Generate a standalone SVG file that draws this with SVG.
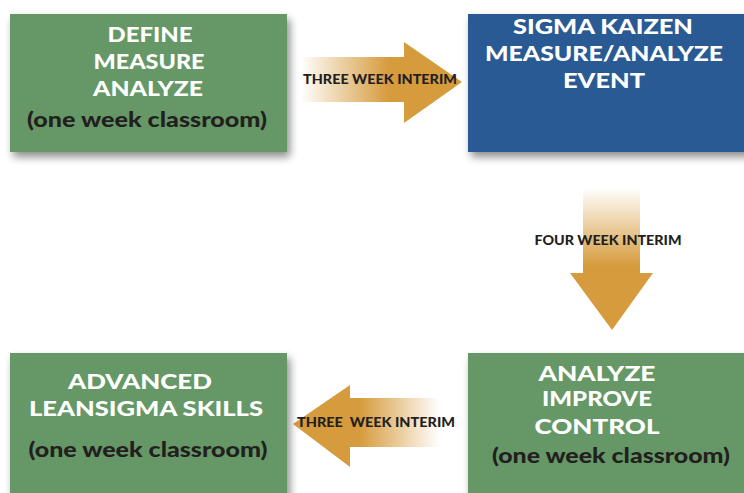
<svg xmlns="http://www.w3.org/2000/svg" width="744" height="493" viewBox="0 0 744 493">
<defs>
<filter id="sh" x="-10%" y="-15%" width="125%" height="140%">
<feGaussianBlur in="SourceAlpha" stdDeviation="4"/>
<feOffset dx="3" dy="5" result="b"/>
<feComponentTransfer><feFuncA type="linear" slope="0.45"/></feComponentTransfer>
<feMerge><feMergeNode/><feMergeNode in="SourceGraphic"/></feMerge>
</filter>
<linearGradient id="gR" x1="300" y1="0" x2="462" y2="0" gradientUnits="userSpaceOnUse">
<stop offset="0" stop-color="#d69b3c" stop-opacity="0"/>
<stop offset="0.55" stop-color="#d69b3c" stop-opacity="1"/>
<stop offset="1" stop-color="#d69b3c"/>
</linearGradient>
<linearGradient id="gL" x1="440" y1="0" x2="293" y2="0" gradientUnits="userSpaceOnUse">
<stop offset="0" stop-color="#d69b3c" stop-opacity="0"/>
<stop offset="0.55" stop-color="#d69b3c" stop-opacity="1"/>
<stop offset="1" stop-color="#d69b3c"/>
</linearGradient>
<linearGradient id="gD" x1="0" y1="188" x2="0" y2="330" gradientUnits="userSpaceOnUse">
<stop offset="0" stop-color="#d69b3c" stop-opacity="0"/>
<stop offset="0.55" stop-color="#d69b3c" stop-opacity="1"/>
<stop offset="1" stop-color="#d69b3c"/>
</linearGradient>
<style>
.green{fill:#659866}
.blue{fill:#2c5a93}
text{font-family:Lato,"Open Sans",sans-serif;font-weight:900;text-anchor:middle}
.t{font-size:21px;fill:#ffffff}
.s{font-size:21px;fill:#231f20}
.l{font-size:12.5px;fill:#231f20}
</style>
</defs>
<rect width="744" height="493" fill="#ffffff"/>
<g id="connectors">
<g id="arrow-right">
<polygon points="300,57 404,57 404,42 462,82 404,123 404,102 300,102" fill="url(#gR)"/>
<text class="l" x="380" y="84" textLength="154" lengthAdjust="spacingAndGlyphs">THREE WEEK INTERIM</text>
</g>
<g id="arrow-down">
<polygon points="583,188 640,188 640,273 653,273 612,330 570,273 583,273" fill="url(#gD)"/>
<text class="l" x="608" y="245" textLength="147" lengthAdjust="spacingAndGlyphs">FOUR WEEK INTERIM</text>
</g>
<g id="arrow-left">
<polygon points="440,398 350,398 350,385 293,424 350,467 350,447 440,447" fill="url(#gL)"/>
<text class="l" x="376" y="427" textLength="158" lengthAdjust="spacingAndGlyphs" xml:space="preserve">THREE  WEEK INTERIM</text>
</g>
</g>
<g id="node-define">
<rect class="green" x="10" y="14" width="277" height="138" filter="url(#sh)"/>
<text class="t" x="150" y="42" textLength="85" lengthAdjust="spacingAndGlyphs">DEFINE</text>
<text class="t" x="149" y="69" textLength="111" lengthAdjust="spacingAndGlyphs">MEASURE</text>
<text class="t" x="148" y="96" textLength="110" lengthAdjust="spacingAndGlyphs">ANALYZE</text>
<text class="s" x="147" y="127" textLength="240" lengthAdjust="spacingAndGlyphs">(one week classroom)</text>
</g>
<g id="node-kaizen">
<rect class="blue" x="468" y="14" width="290" height="138" filter="url(#sh)"/>
<text class="t" x="603" y="34" textLength="180" lengthAdjust="spacingAndGlyphs">SIGMA KAIZEN</text>
<text class="t" x="604" y="61" textLength="238" lengthAdjust="spacingAndGlyphs">MEASURE/ANALYZE</text>
<text class="t" x="604" y="88" textLength="82" lengthAdjust="spacingAndGlyphs">EVENT</text>
</g>
<g id="node-improve">
<rect class="green" x="468" y="353" width="290" height="150" filter="url(#sh)"/>
<text class="t" x="597" y="381" textLength="117" lengthAdjust="spacingAndGlyphs">ANALYZE</text>
<text class="t" x="597" y="406" textLength="110" lengthAdjust="spacingAndGlyphs">IMPROVE</text>
<text class="t" x="597" y="434" textLength="125" lengthAdjust="spacingAndGlyphs">CONTROL</text>
<text class="s" x="611" y="463" textLength="238" lengthAdjust="spacingAndGlyphs">(one week classroom)</text>
</g>
<g id="node-advanced">
<rect class="green" x="10" y="353" width="277" height="150" filter="url(#sh)"/>
<text class="t" x="140" y="389" textLength="144" lengthAdjust="spacingAndGlyphs">ADVANCED</text>
<text class="t" x="146" y="416" textLength="234" lengthAdjust="spacingAndGlyphs">LEANSIGMA SKILLS</text>
<text class="s" x="148" y="457" textLength="239" lengthAdjust="spacingAndGlyphs">(one week classroom)</text>
</g>
</svg>
